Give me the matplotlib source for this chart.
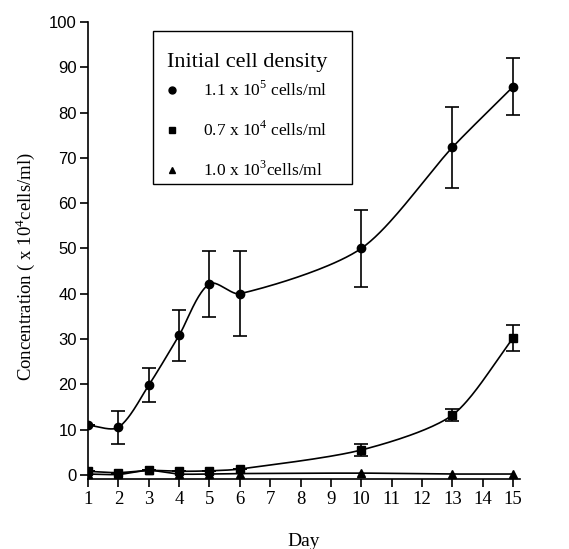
import numpy as np
import matplotlib
matplotlib.use("Agg")
from matplotlib import pyplot as plt
from matplotlib.lines import Line2D
from matplotlib.patches import Rectangle

plt.rcParams["mathtext.fontset"] = "custom"
plt.rcParams["mathtext.rm"] = "Liberation Serif"

days = [1, 2, 3, 4, 5, 6, 10, 13, 15]

high = [11.0, 10.5, 19.8, 30.8, 42.2, 40.0, 50.0, 72.3, 85.7]
high_err = [0.0, 3.6, 3.7, 5.7, 7.3, 9.4, 8.5, 9.0, 6.3]

mid = [0.8, 0.5, 1.0, 0.8, 0.9, 1.3, 5.5, 13.2, 30.2]
mid_err = [0.0, 0.0, 0.0, 0.0, 0.0, 0.0, 1.3, 1.4, 2.8]

low = [0.2, 0.1, 1.0, 0.2, 0.2, 0.3, 0.4, 0.2, 0.2]

labels = [r"1.1 x 10$^{5}$ cells/ml",
          r"0.7 x 10$^{4}$ cells/ml",
          r"1.0 x 10$^{3}$cells/ml"]

x_ticks = list(range(1, 16))
y_ticks = list(range(0, 101, 10))

W, H = 569, 549


def smooth_curve(ax, xs, ys, n=40, k=0.26):
    """Smoothed line through the points: cubic Bezier pieces whose
    control arms follow the neighbour direction, scaled by the piece
    length (worked out in display space)."""
    pts = ax.transData.transform(np.column_stack([xs, ys]))
    ext = np.vstack([pts[0], pts, pts[-1]])
    out = []
    t = np.linspace(0, 1, n)[:, None]
    for i in range(len(pts) - 1):
        p0 = ext[i + 1]
        p3 = ext[i + 2]
        seg_len = np.linalg.norm(p3 - p0)
        d0 = ext[i + 2] - ext[i]
        d1 = ext[i + 3] - ext[i + 1]
        d0 = d0 / np.linalg.norm(d0)
        d1 = d1 / np.linalg.norm(d1)
        p1 = p0 + d0 * seg_len * k
        p2 = p3 - d1 * seg_len * k
        seg = ((1 - t) ** 3) * p0 + 3 * ((1 - t) ** 2) * t * p1 \
            + 3 * (1 - t) * t ** 2 * p2 + t ** 3 * p3
        out.append(seg if i == 0 else seg[1:])
    out = np.vstack(out)
    data = ax.transData.inverted().transform(out)
    return data[:, 0], data[:, 1]


def main():
    fig = plt.figure(figsize=(W / 100, H / 100), dpi=100)
    ax = fig.add_axes([88 / W, 70 / H, 432 / W, 457 / H])
    ax.set_xlim(1, 15.23)
    ax.set_ylim(-0.9, 100)

    series = [
        (high, high_err, "o", 6),
        (mid, mid_err, "s", 5.5),
        (low, None, "^", 5.5),
    ]
    handles = []
    for (vals, err, mk, ms), lab in zip(series, labels):
        sx, sy = smooth_curve(ax, days, vals)
        ax.plot(sx, sy, color="black", lw=1.2, zorder=2)
        if err is not None:
            ax.errorbar(days, vals, yerr=err, fmt="none", ecolor="black",
                        elinewidth=1.2, capsize=5, capthick=1.2, zorder=3)
        ax.plot(days, vals, linestyle="none", marker=mk, ms=ms,
                color="black", zorder=4)
        handles.append(Line2D([], [], linestyle="none", marker=mk,
                              ms=ms - 1, color="black", label=lab))

    ax.spines["top"].set_visible(False)
    ax.spines["right"].set_visible(False)
    for s in ("left", "bottom"):
        ax.spines[s].set_linewidth(1.2)

    ax.set_xticks(x_ticks)
    ax.set_xticklabels([str(d) for d in x_ticks],
                       fontfamily="Liberation Serif", fontsize=13.5)
    ax.set_yticks(y_ticks)
    ax.set_yticklabels([str(v) for v in y_ticks],
                       fontfamily="Liberation Sans", fontsize=12)
    ax.tick_params(axis="both", direction="out", length=6, width=1.2,
                   color="black")
    ax.tick_params(axis="x", pad=3)
    ax.tick_params(axis="y", pad=2)

    ax.set_xlabel("Day", fontfamily="Liberation Serif", fontsize=14,
                  labelpad=18)
    ax.set_ylabel(r"Concentration ( x 10$^{4}$cells/ml)",
                  fontfamily="Liberation Serif", fontsize=13.5)
    ax.yaxis.set_label_coords(-0.118, 0.464)

    # legend box drawn on its own, legend content placed inside it
    fig.patches.append(Rectangle((152.7 / W, 1 - 184 / H),
                                 (352 - 152.7) / W, (184 - 31) / H,
                                 transform=fig.transFigure, fill=False,
                                 edgecolor="black", linewidth=1.0))
    leg = ax.legend(handles=handles, title="Initial cell density",
                    loc="upper left",
                    bbox_to_anchor=(167 / W, 1 - 53 / H),
                    bbox_transform=fig.transFigure, borderaxespad=0,
                    borderpad=0, frameon=False,
                    prop={"family": "Liberation Serif", "size": 12.5},
                    title_fontproperties={"family": "Liberation Serif",
                                          "size": 16},
                    alignment="left", handlelength=0.6, handletextpad=1.45,
                    labelspacing=1.2)
    leg._legend_box.sep = 6

    fig.savefig("out.png", dpi=100)
    plt.close(fig)


if __name__ == "__main__":
    main()
